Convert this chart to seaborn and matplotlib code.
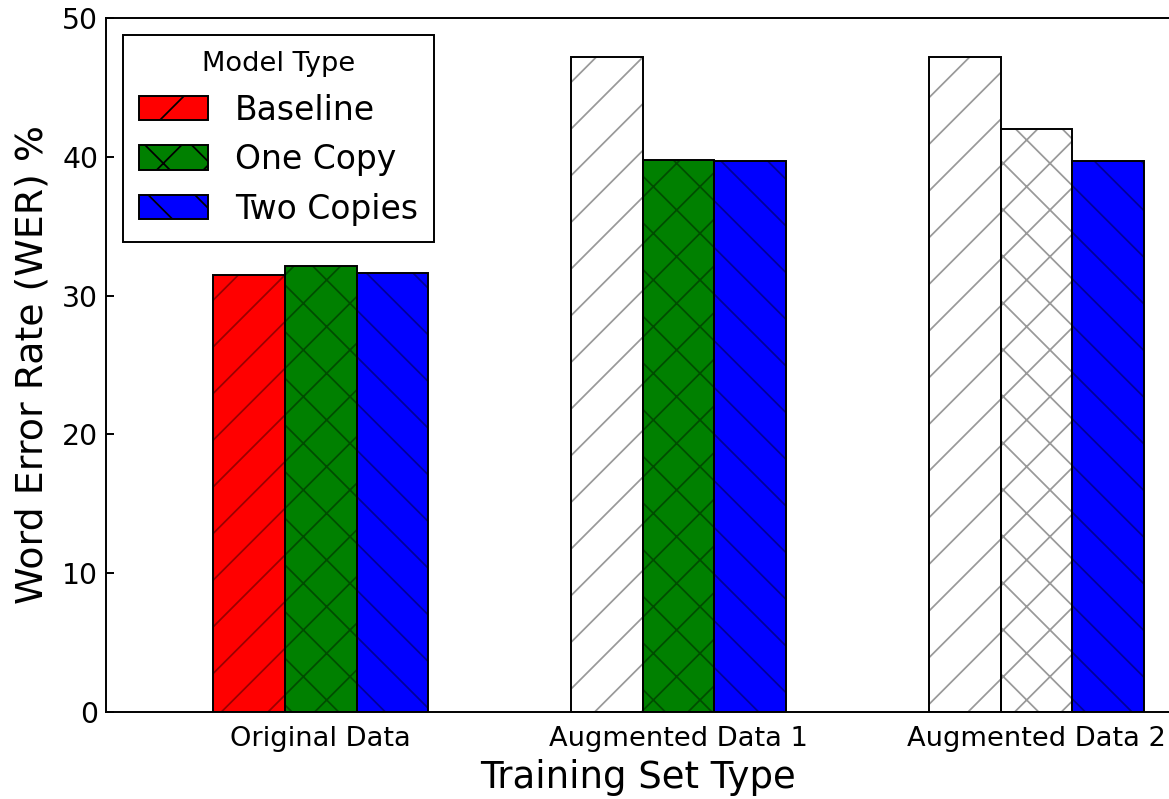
import matplotlib
matplotlib.use("Agg")
import matplotlib.pyplot as plt
from matplotlib.patches import Patch, Rectangle
import seaborn as sns
import pandas as pd

# ---- data ----
categories = ["Original Data", "Augmented Data 1", "Augmented Data 2"]
models = ["Baseline", "One Copy", "Two Copies"]
baseline = [31.5, 47.2, 47.2]
one_copy = [32.1, 39.8, 42.0]
two_copies = [31.6, 39.7, 39.7]
# whether bar is drawn in colour (True) or left white (False)
filled_baseline = [True, False, False]
filled_one_copy = [True, True, False]
filled_two_copies = [True, True, True]

colors = ["#ff0000", "#008000", "#0000ff"]
hatches = ["/", "x", "\\"]

rows = []
for m, vals in zip(models, [baseline, one_copy, two_copies]):
    for c, v in zip(categories, vals):
        rows.append({"Training Set Type": c, "Model Type": m, "WER": v})
df = pd.DataFrame(rows)

plt.rcParams["hatch.linewidth"] = 0.9
dpi = 140
fig = plt.figure(figsize=(1169 / dpi, 799 / dpi), dpi=dpi)
ax = fig.add_axes([106 / 1169, 1 - 712 / 799, 1 - 106 / 1169, (712 - 18) / 799])

sns.barplot(data=df, x="Training Set Type", y="WER", hue="Model Type",
            order=categories, hue_order=models, palette=colors,
            width=0.6, ax=ax, legend=False, errorbar=None,
            edgecolor=(0, 0, 0, 0.4), linewidth=0, saturation=1)

filled = [filled_baseline, filled_one_copy, filled_two_copies]
for ci, cont in enumerate(ax.containers):
    for bi, bar in enumerate(cont):
        bar.set_hatch(hatches[ci])
        if not filled[ci][bi]:
            bar.set_facecolor("white")
        outline = Rectangle(bar.get_xy(), bar.get_width(), bar.get_height(),
                            fill=False, edgecolor="black", linewidth=1.0, zorder=3)
        ax.add_patch(outline)

ax.set_xlim(-0.6, 2.37)
ax.set_ylim(0, 50)
ax.set_yticks([0, 10, 20, 30, 40, 50])

for side in ["left", "top", "bottom"]:
    ax.spines[side].set_linewidth(1.0)
    ax.spines[side].set_color("black")
ax.spines["right"].set_visible(False)

ax.tick_params(axis="y", direction="in", length=4, width=1, labelsize=14.5, pad=4)
ax.tick_params(axis="x", length=0, labelsize=14, pad=7)

ax.set_xlabel("Training Set Type", fontsize=19, labelpad=4)
ax.set_ylabel("Word Error Rate (WER) %", fontsize=19.5, labelpad=6)

handles = [Patch(facecolor=col, edgecolor="black", hatch=h, linewidth=1.0)
           for col, h in zip(colors, hatches)]
leg = ax.legend(handles, models, title="Model Type", loc="upper left",
                fontsize=17, title_fontsize=14, handlelength=2.1,
                handleheight=0.75, labelspacing=0.5, handletextpad=0.8,
                borderaxespad=0.5, fancybox=False, framealpha=1,
                borderpad=0.5)
leg.get_frame().set_edgecolor("black")
leg.get_frame().set_linewidth(1.0)

fig.savefig("out.png", dpi=dpi)
